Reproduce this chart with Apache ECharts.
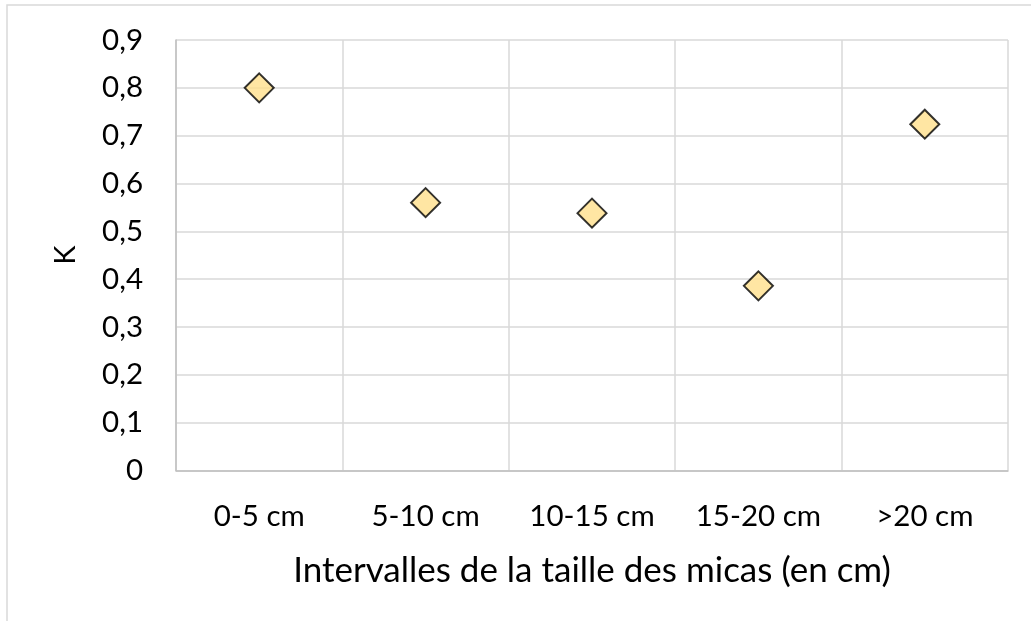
<!DOCTYPE html>
<html>
<head>
<meta charset="utf-8">
<script src="https://cdn.jsdelivr.net/npm/echarts@6/dist/echarts.min.js"></script>
<style>
  html, body { margin: 0; padding: 0; background: #fff; }
  #chart { width: 1031px; height: 621px; }
</style>
</head>
<body>
<div id="chart"></div>
<script>
// Mica size intervals and their K coefficients
const categories = ['0-5 cm', '5-10 cm', '10-15 cm', '15-20 cm', '>20 cm'];
const kValues = [0.80, 0.56, 0.538, 0.386, 0.724];
const xTitle = 'Intervalles de la taille des micas (en cm)';
const yTitle = 'K';

const FONT = 'Lato';
const chart = echarts.init(document.getElementById('chart'), null, { renderer: 'canvas' });

chart.setOption({
  animation: false,
  backgroundColor: '#ffffff',
  textStyle: { fontFamily: FONT },
  graphic: [{
    type: 'rect',
    shape: { x: 7, y: 5, width: 1040, height: 640 },
    style: { fill: 'none', stroke: '#d9d9d9', lineWidth: 1.5 },
    silent: true
  }],
  grid: { left: 176, top: 40, right: 23, bottom: 150.5 },
  xAxis: {
    type: 'category',
    data: categories,
    boundaryGap: true,
    name: xTitle,
    nameLocation: 'middle',
    nameGap: 83,
    nameTextStyle: { fontSize: 35, color: '#000', fontFamily: FONT },
    axisLine: { show: true, lineStyle: { color: '#bfbfbf', width: 1.5 } },
    axisTick: { show: false },
    axisLabel: { margin: 31, fontSize: 29.5, color: '#000', fontFamily: FONT },
    splitLine: { show: true, lineStyle: { color: '#d9d9d9', width: 1.5 } }
  },
  yAxis: {
    type: 'value',
    min: 0,
    max: 0.9,
    interval: 0.1,
    name: yTitle,
    nameLocation: 'middle',
    nameGap: 96,
    nameRotate: 90,
    nameTextStyle: { fontSize: 29, color: '#000', fontFamily: FONT },
    axisLine: { show: true, lineStyle: { color: '#bfbfbf', width: 1.5 } },
    axisTick: { show: false },
    axisLabel: {
      margin: 33,
      fontSize: 29.5,
      color: '#000',
      fontFamily: FONT,
      formatter: v => (Math.round(v * 10) / 10).toString().replace('.', ',')
    },
    splitLine: { show: true, lineStyle: { color: '#d9d9d9', width: 1.5 } }
  },
  series: [{
    type: 'scatter',
    data: kValues,
    symbol: 'diamond',
    symbolSize: [29, 29],
    itemStyle: { color: '#ffe08c', borderColor: '#000', borderWidth: 2 }
  }]
});
</script>
</body>
</html>
